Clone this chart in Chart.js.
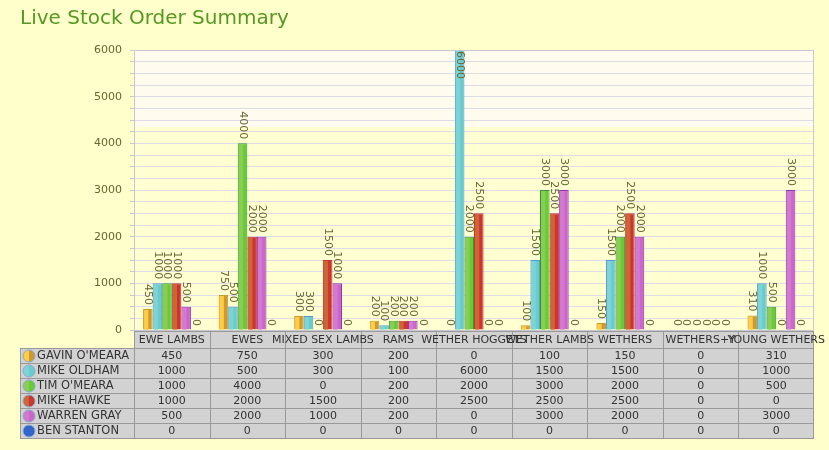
<!DOCTYPE html>
<html>
<head>
<title>Live Stock Order Summary</title>
<script src="https://cdn.jsdelivr.net/npm/chart.js"></script>
<style>
  body { margin: 0; background: #FFFFCC; }
  #wrap { width: 829px; height: 450px; }
</style>
</head>
<body>
<div id="wrap"><canvas id="orderChart"></canvas></div>
<script>
// chart data
var categories = ['EWE LAMBS', 'EWES', 'MIXED SEX LAMBS', 'RAMS', 'WETHER HOGGETS', 'WETHER LAMBS', 'WETHERS', 'WETHERS+Y', 'YOUNG WETHERS'];
var buyers = ["GAVIN O'MEARA", 'MIKE OLDHAM', "TIM O'MEARA", 'MIKE HAWKE', 'WARREN GRAY', 'BEN STANTON'];
var gavinOMeara = [450, 750, 300, 200, 0, 100, 150, 0, 310];
var mikeOldham = [1000, 500, 300, 100, 6000, 1500, 1500, 0, 1000];
var timOMeara = [1000, 4000, 0, 200, 2000, 3000, 2000, 0, 500];
var mikeHawke = [1000, 2000, 1500, 200, 2500, 2500, 2500, 0, 0];
var warrenGray = [500, 2000, 1000, 200, 0, 3000, 2000, 0, 3000];
var benStanton = [0, 0, 0, 0, 0, 0, 0, 0, 0];
var yTicks = [0, 1000, 2000, 3000, 4000, 5000, 6000];

// colours per buyer: light left side, main, edge
var lightColors = ['#FFCC44', '#7DD3D6', '#8ACC55', '#CC6633', '#D07AD0', '#3366CC'];
var mainColors = ['#CC9933', '#66CCCC', '#66CC33', '#CC3333', '#CC66CC', '#3366CC'];
var edgeColors = ['#CC9933', '#5599CC', '#339933', '#CC3333', '#9933AA', '#3366CC'];

var series = [gavinOMeara, mikeOldham, timOMeara, mikeHawke, warrenGray, benStanton];
var datasets = [];
for (var i = 0; i < buyers.length; i++) {
    datasets.push({
        label: buyers[i],
        data: series[i],
        backgroundColor: mainColors[i],
        borderColor: edgeColors[i],
        borderWidth: 1,
        categoryPercentage: 0.76,
        barPercentage: 1.0
    });
}

var labelColor = '#666633';

// backgrounds behind the plot
var backPlugin = {
    id: 'backPlugin',
    beforeDraw: function(chart) {
        var ctx = chart.ctx, a = chart.chartArea;
        ctx.save();
        ctx.fillStyle = '#FFFFCC';
        ctx.fillRect(0, 0, chart.width, chart.height);
        ctx.fillStyle = '#FFFFD2';
        ctx.fillRect(a.left, a.top, a.right - a.left, a.bottom - a.top);
        ctx.fillStyle = '#FFFBEF';
        ctx.fillRect(a.left, a.top, a.right - a.left, (a.bottom - a.top) * 0.275);
        ctx.restore();
    }
};

// two-tone bars and rotated value labels
var barPlugin = {
    id: 'barPlugin',
    afterDatasetsDraw: function(chart) {
        var ctx = chart.ctx, a = chart.chartArea;
        ctx.save();
        chart.data.datasets.forEach(function(ds, di) {
            var meta = chart.getDatasetMeta(di);
            meta.data.forEach(function(bar, i) {
                var h = bar.base - bar.y;
                if (h > 2) {
                    var left = bar.x - bar.width / 2;
                    ctx.fillStyle = lightColors[di];
                    ctx.fillRect(left + 1, bar.y + 1, bar.width * 0.55 - 1, h - 1);
                }
            });
        });
        ctx.font = '11px "DejaVu Sans"';
        ctx.fillStyle = labelColor;
        ctx.textAlign = 'right';
        ctx.textBaseline = 'middle';
        chart.data.datasets.forEach(function(ds, di) {
            var meta = chart.getDatasetMeta(di);
            meta.data.forEach(function(bar, i) {
                var txt = String(ds.data[i]);
                var w = ctx.measureText(txt).width;
                var end = bar.y - 4;
                if (end - w < a.top) end = a.top + w + 1;
                ctx.save();
                ctx.translate(bar.x, end);
                ctx.rotate(Math.PI / 2);
                ctx.fillText(txt, 0, 0);
                ctx.restore();
            });
        });
        ctx.restore();
    }
};

// data table under the plot
var tablePlugin = {
    id: 'tablePlugin',
    afterDraw: function(chart) {
        var ctx = chart.ctx, a = chart.chartArea, xs = chart.scales.x;
        var colW = (a.right - a.left) / categories.length;
        var top = a.bottom + 1, headH = 17, rowH = 15, nameLeft = 20;
        var bottom = top + headH + rowH * buyers.length;
        ctx.save();
        // plot frame
        ctx.strokeStyle = '#C8C8D0';
        ctx.lineWidth = 1;
        ctx.strokeRect(a.left + 0.5, a.top + 0.5, a.right - a.left - 1, a.bottom - a.top);

        ctx.fillStyle = '#D2D2D2';
        ctx.fillRect(a.left, top, a.right - a.left, headH);
        ctx.fillRect(nameLeft, top + headH, a.right - nameLeft, rowH * buyers.length);

        ctx.strokeStyle = '#999999';
        ctx.beginPath();
        ctx.moveTo(a.left, top + 0.5); ctx.lineTo(a.right, top + 0.5);
        for (var r = 0; r <= buyers.length; r++) {
            var yy = Math.round(top + headH + r * rowH) + 0.5;
            ctx.moveTo(nameLeft, yy); ctx.lineTo(a.right, yy);
        }
        ctx.moveTo(nameLeft + 0.5, top + headH); ctx.lineTo(nameLeft + 0.5, bottom);
        for (var c = 0; c <= categories.length; c++) {
            var xx = Math.round(a.left + c * colW) + 0.5;
            if (c === categories.length) xx -= 1;
            ctx.moveTo(xx, top); ctx.lineTo(xx, bottom);
        }
        ctx.stroke();

        ctx.font = '11px "DejaVu Sans"';
        ctx.fillStyle = '#333333';
        ctx.textBaseline = 'middle';
        ctx.textAlign = 'center';
        categories.forEach(function(cat, i) {
            ctx.fillText(cat, xs.getPixelForValue(i), top + headH / 2 + 1);
        });
        buyers.forEach(function(name, r) {
            var cy = top + headH + r * rowH + rowH / 2 + 1;
            // legend dot
            var cx = nameLeft + 9, rad = 6;
            ctx.fillStyle = lightColors[r];
            ctx.beginPath(); ctx.arc(cx, cy - 0.5, rad, Math.PI / 2, Math.PI * 1.5); ctx.fill();
            ctx.fillStyle = mainColors[r];
            ctx.beginPath(); ctx.arc(cx, cy - 0.5, rad, -Math.PI / 2, Math.PI / 2); ctx.fill();
            ctx.strokeStyle = '#88AACC';
            ctx.beginPath(); ctx.arc(cx, cy - 0.5, rad, 0, Math.PI * 2); ctx.stroke();
            ctx.fillStyle = '#333333';
            ctx.textAlign = 'left';
            ctx.font = '11.5px "DejaVu Sans"';
            ctx.fillText(name, nameLeft + 17, cy);
            ctx.font = '11px "DejaVu Sans"';
            ctx.textAlign = 'center';
            series[r].forEach(function(v, i) {
                ctx.fillText(String(v), xs.getPixelForValue(i), cy);
            });
        });
        ctx.restore();
    }
};

var ctx = document.getElementById('orderChart').getContext('2d');
new Chart(ctx, {
    type: 'bar',
    data: {
        labels: categories,
        datasets: datasets
    },
    options: {
        responsive: true,
        maintainAspectRatio: false,
        animation: false,
        layout: { padding: { left: 20, right: 15, top: 0, bottom: 120 } },
        plugins: {
            legend: { display: false },
            tooltip: { enabled: false },
            title: {
                display: true,
                text: 'Live Stock Order Summary',
                align: 'start',
                color: '#559922',
                font: { family: 'DejaVu Sans', size: 20, weight: 'normal' },
                padding: { top: 7, bottom: 19 }
            }
        },
        scales: {
            x: {
                display: false
            },
            y: {
                min: 0,
                max: 6000,
                afterFit: function(scale) { scale.width = 114; },
                ticks: {
                    stepSize: 250,
                    autoSkip: false,
                    padding: 8,
                    color: labelColor,
                    font: { family: 'DejaVu Sans', size: 11 },
                    callback: function(v) { return yTicks.indexOf(v) >= 0 ? v : ''; }
                },
                grid: {
                    color: '#DDDDE6',
                    tickColor: '#C8C8D0',
                    tickLength: 4
                },
                border: { color: '#C8C8D0' }
            }
        }
    },
    plugins: [backPlugin, barPlugin, tablePlugin]
});
</script>
</body>
</html>
